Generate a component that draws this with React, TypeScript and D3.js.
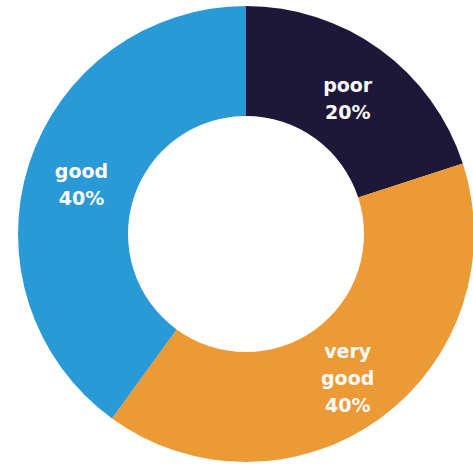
import React from "react";
import * as d3 from "d3";

const categories = ["poor", "very good", "good"];
const values = [20, 40, 40];
const colors = ["#1d1837", "#ec9a35", "#2a9ad6"];
const labelLines = [["poor", "20%"], ["very", "good", "40%"], ["good", "40%"]];

export default function App() {
  const W = 473, H = 466;
  const cx = 246, cy = 234;
  const outerR = 228, innerR = 118;
  const pie = d3.pie<number>().sort(null).value((d) => d);
  const arcs = pie(values);
  const arc = d3.arc<d3.PieArcDatum<number>>().innerRadius(innerR).outerRadius(outerR);
  const labelArc = d3.arc<d3.PieArcDatum<number>>().innerRadius(173).outerRadius(173);
  return (
    <svg width={W} height={H} style={{ position: "absolute", left: 0, top: 0, background: "#fff" }}>
      <g transform={`translate(${cx},${cy})`}>
        {arcs.map((a, i) => (
          <path key={categories[i]} d={arc(a) || ""} fill={colors[i]} />
        ))}
        {arcs.map((a, i) => {
          const [x, y] = labelArc.centroid(a);
          const lines = labelLines[i];
          const n = lines.length;
          return (
            <text key={"t" + i} x={x} y={y} textAnchor="middle" fill="#fbfbfb"
              style={{ fontFamily: "DejaVu Sans", fontWeight: 700, fontSize: 19 }}>
              {lines.map((l, j) => (
                <tspan key={j} x={x} y={y + (j - (n - 1) / 2) * 27 + 11}>{l}</tspan>
              ))}
            </text>
          );
        })}
      </g>
    </svg>
  );
}
